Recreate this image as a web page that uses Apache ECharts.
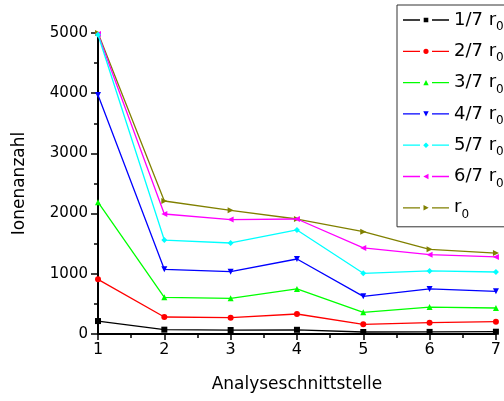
<!DOCTYPE html>
<html>
<head>
<meta charset="utf-8">
<script src="https://cdn.jsdelivr.net/npm/echarts@6/dist/echarts.min.js"></script>
<style>
  html, body { margin: 0; padding: 0; background: #fff; }
  #chart { width: 504px; height: 401px; }
</style>
</head>
<body>
<div id="chart"></div>
<script>
// Analysis interfaces along the x axis
const positions = [1, 2, 3, 4, 5, 6, 7];

// Ion counts per radius fraction
const r1of7 = [215, 72, 66, 70, 33, 35, 38];
const r2of7 = [908, 282, 271, 332, 161, 188, 205];
const r3of7 = [2190, 609, 593, 748, 360, 448, 432];
const r4of7 = [3970, 1074, 1035, 1246, 626, 748, 709];
const r5of7 = [4970, 1561, 1512, 1728, 1008, 1047, 1030];
const r6of7 = [4985, 1993, 1900, 1910, 1430, 1318, 1280];
const rFull = [5000, 2209, 2055, 1910, 1700, 1407, 1345];

const seriesNames = ['1/7 r0', '2/7 r0', '3/7 r0', '4/7 r0', '5/7 r0', '6/7 r0', 'r0'];
const yTicks = [0, 1000, 2000, 3000, 4000, 5000];

const FONT = 'DejaVu Sans';

const chart = echarts.init(document.getElementById('chart'), null, { renderer: 'canvas' });

function pairs(values) {
  return values.map((v, i) => [positions[i], v]);
}

// Legend samples: dash, gap, marker, gap, dash (markers centred at x = 23)
const DASHES = 'M0,3.35h17v1.3H0z M29,3.35h17v1.3H29z ';
const MARKER_PATHS = {
  square: 'M20.7,1.7h4.6v4.6h-4.6z',
  circle: 'M25.6,4A2.6,2.6 0 1 1 20.4,4A2.6,2.6 0 1 1 25.6,4z',
  up: 'M23,1.3L25.7,6.5L20.3,6.5z',
  down: 'M20.3,1.5L25.7,1.5L23,6.7z',
  diamond: 'M23,1.2L25.8,4L23,6.8L20.2,4z',
  left: 'M20.3,4L25.5,1.3L25.5,6.7z',
  right: 'M25.7,4L20.5,1.3L20.5,6.7z'
};

const defs = [
  { values: r1of7, color: '#000000', symbol: 'rect', rotate: 0, icon: 'square' },
  { values: r2of7, color: '#ff0000', symbol: 'circle', rotate: 0, icon: 'circle' },
  { values: r3of7, color: '#00ff00', symbol: 'triangle', rotate: 0, icon: 'up' },
  { values: r4of7, color: '#0000ff', symbol: 'triangle', rotate: 180, icon: 'down' },
  { values: r5of7, color: '#00ffff', symbol: 'diamond', rotate: 0, icon: 'diamond' },
  { values: r6of7, color: '#ff00ff', symbol: 'triangle', rotate: 90, icon: 'left' },
  { values: rFull, color: '#808000', symbol: 'triangle', rotate: -90, icon: 'right' }
];

const series = defs.map((d, i) => ({
  name: seriesNames[i],
  type: 'line',
  data: pairs(d.values),
  symbol: d.symbol,
  symbolRotate: d.rotate,
  symbolSize: 6,
  color: d.color,
  lineStyle: { color: d.color, width: 1.3 },
  itemStyle: { color: d.color },
  animation: false,
  z: 10 - i
}));

const legendData = defs.map((d, i) => ({
  name: seriesNames[i],
  icon: 'path://' + DASHES + MARKER_PATHS[d.icon],
  itemStyle: { color: d.color, borderWidth: 0 }
}));

chart.setOption({
  animation: false,
  backgroundColor: '#ffffff',
  textStyle: { fontFamily: FONT },
  grid: { left: 98, right: 7, top: 33, bottom: 67, containLabel: false },
  xAxis: {
    type: 'value',
    min: 1,
    max: 7,
    interval: 1,
    name: 'Analyseschnittstelle',
    nameLocation: 'middle',
    nameGap: 42,
    nameTextStyle: { fontFamily: FONT, fontSize: 17, color: '#000' },
    axisLine: { show: true, onZero: false, lineStyle: { color: '#000', width: 2 } },
    axisTick: { show: true, inside: false, length: 6, lineStyle: { color: '#000', width: 1.5 } },
    minorTick: { show: true, splitNumber: 2, length: 4, lineStyle: { color: '#000', width: 1.5 } },
    axisLabel: { fontFamily: FONT, fontSize: 16, color: '#000', margin: 8 },
    splitLine: { show: false }
  },
  yAxis: {
    type: 'value',
    min: yTicks[0],
    max: yTicks[yTicks.length - 1],
    interval: 1000,
    name: 'Ionenanzahl',
    nameLocation: 'middle',
    nameGap: 70,
    nameTextStyle: { fontFamily: FONT, fontSize: 17, color: '#000' },
    axisLine: { show: true, onZero: false, lineStyle: { color: '#000', width: 2 } },
    axisTick: { show: true, inside: false, length: 7, lineStyle: { color: '#000', width: 1.5 } },
    minorTick: { show: true, splitNumber: 2, length: 4, lineStyle: { color: '#000', width: 1.5 } },
    axisLabel: {
      fontFamily: FONT, fontSize: 15, color: '#000', margin: 10,
      formatter: function (v) { return String(v); }
    },
    splitLine: { show: false }
  },
  legend: {
    orient: 'vertical',
    left: 397,
    top: 5,
    padding: [6, 40, 6, 6],
    itemGap: 9.3,
    itemWidth: 46,
    itemHeight: 8,
    backgroundColor: '#ffffff',
    borderColor: '#333333',
    borderWidth: 1,
    data: legendData,
    formatter: function (name) {
      const base = name.slice(0, -1);
      return '{m|' + base + '}{s|0}';
    },
    textStyle: {
      fontFamily: FONT,
      color: '#000',
      rich: {
        m: { fontFamily: FONT, fontSize: 18, lineHeight: 26, color: '#000' },
        s: { fontFamily: FONT, fontSize: 12, lineHeight: 12, verticalAlign: 'bottom', color: '#000' }
      }
    }
  },
  series: series
});
</script>
</body>
</html>
